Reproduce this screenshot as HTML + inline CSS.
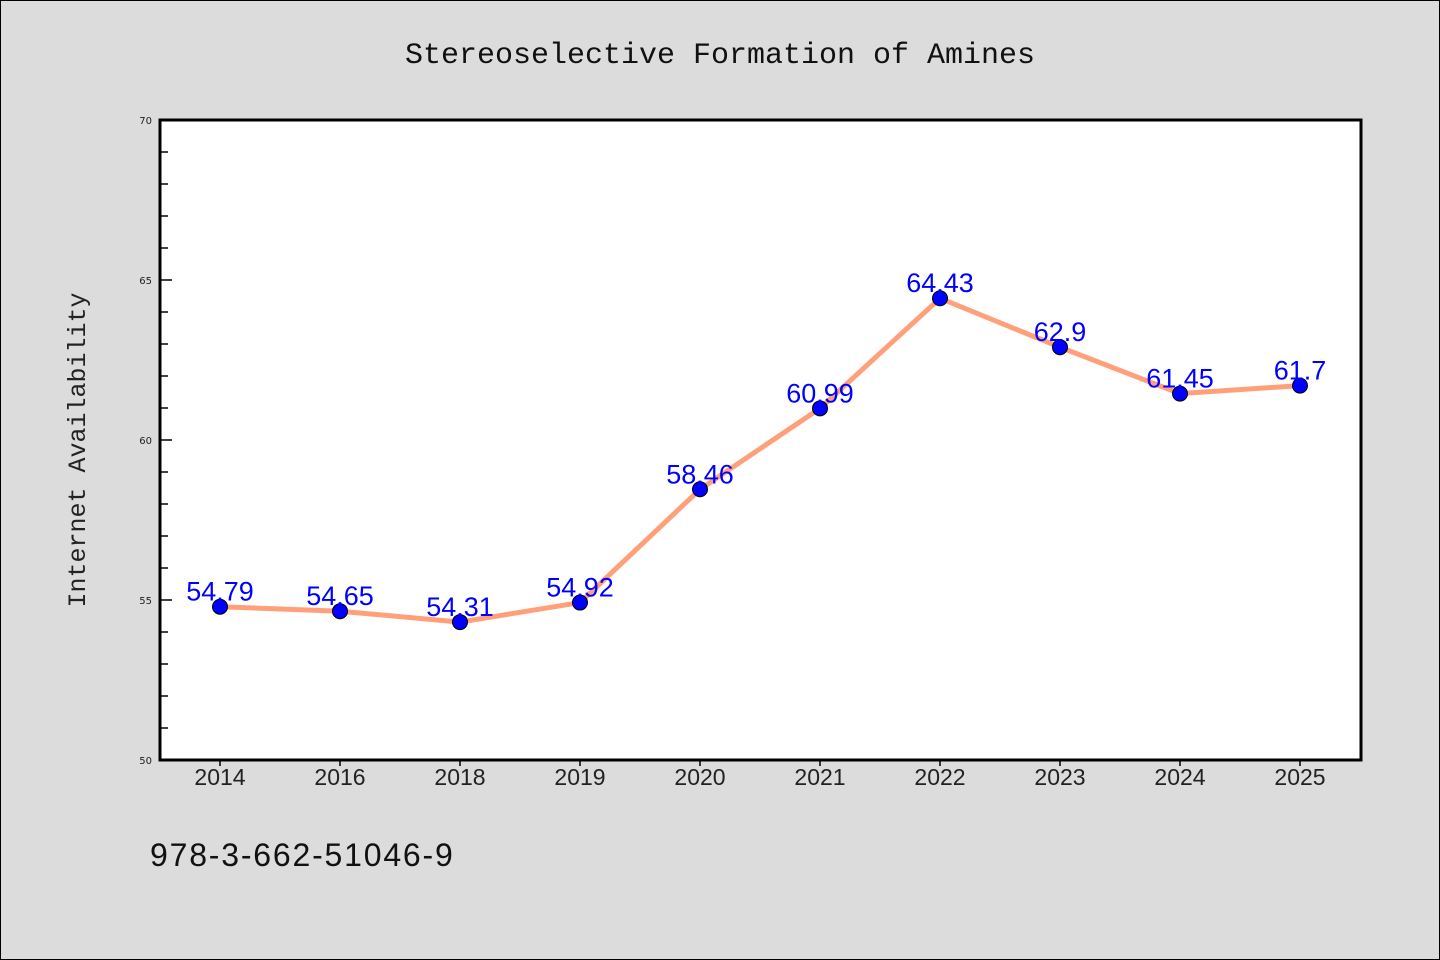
<!DOCTYPE html>
<html><head><meta charset="utf-8"><style>
html,body{margin:0;padding:0;background:#dcdcdc}
svg{display:block}
</style></head><body>
<svg width="1440" height="960" xmlns="http://www.w3.org/2000/svg">
<rect x="0.5" y="0.5" width="1439" height="959" fill="#dcdcdc" stroke="#000"/>
<text x="720" y="63" text-anchor="middle" font-family="'Liberation Mono',monospace" font-size="30" fill="#111">Stereoselective Formation of Amines</text>
<rect x="160" y="120" width="1201" height="640" fill="#fff"/>
<g id="axes"></g>
<g id="marks"></g>
<rect x="160" y="120" width="1201" height="640" fill="none" stroke="#000" stroke-width="3"/>
<text transform="translate(85,450) rotate(-90)" text-anchor="middle" font-family="'Liberation Mono',monospace" font-size="25" fill="#222">Internet Availability</text>
<text x="150" y="866" font-family="'Liberation Sans',sans-serif" font-size="32" letter-spacing="1.8" fill="#111">978-3-662-51046-9</text>
</svg>
<script>
const categories=["2014","2016","2018","2019","2020","2021","2022","2023","2024","2025"];
const values=[54.79,54.65,54.31,54.92,58.46,60.99,64.43,62.9,61.45,61.7];
const labels=["54.79","54.65","54.31","54.92","58.46","60.99","64.43","62.9","61.45","61.7"];
const yTicks=[50,55,60,65,70];
(function(){
const NS="http://www.w3.org/2000/svg";
const yMin=50,yMax=70,pTop=120,pBot=760,pLeft=160;
const y=v=>pBot-(v-yMin)/(yMax-yMin)*(pBot-pTop);
const x=i=>220+i*120;
function mk(t,a,p){const e=document.createElementNS(NS,t);for(const k in a)e.setAttribute(k,a[k]);p.appendChild(e);return e;}
const ax=document.getElementById('axes'),mg=document.getElementById('marks');
for(let v=yMin;v<=yMax;v++){
 const major=yTicks.includes(v);
 const l=mk('line',{x1:pLeft,x2:pLeft+(major?12:8),y1:y(v),y2:y(v),stroke:'#000','stroke-width':1.5},ax);
 
 
}
yTicks.forEach(v=>{
 const t=mk('text',{x:152,y:y(v)+4,'text-anchor':'end','font-family':'DejaVu Sans,sans-serif','font-size':10,fill:'#222'},ax);
 t.textContent=v;
 
 
});
categories.forEach((c,i)=>{
 const l=mk('line',{x1:x(i),x2:x(i),y1:pBot,y2:pBot+6,stroke:'#000','stroke-width':1.5},ax);
 
 
 const t=mk('text',{x:x(i),y:pBot+25,'text-anchor':'middle','font-family':'Liberation Sans,sans-serif','font-size':23,fill:'#222'},ax);
 t.textContent=c;
 
 
});
const line=mk('polyline',{points:values.map((v,i)=>x(i)+','+y(v)).join(' '),fill:'none',stroke:'#ffa07a','stroke-width':5},mg);


values.forEach((v,i)=>{
 const c=mk('circle',{cx:x(i),cy:y(v),r:7.5,fill:'#0000ff',stroke:'#000','stroke-width':1},mg);
 
 
 const t=mk('text',{x:x(i),y:y(v)-6,'text-anchor':'middle','font-family':'Liberation Sans,sans-serif','font-size':27,fill:'#0000ff'},mg);
 t.textContent=labels[i];
 
 
});
})();
</script>
</body></html>
